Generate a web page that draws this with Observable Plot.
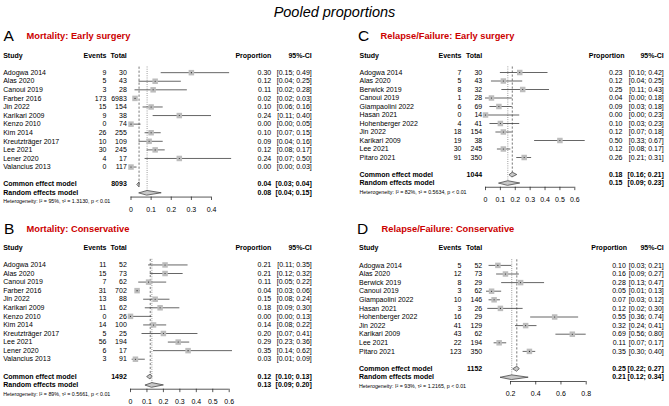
<!DOCTYPE html>
<html><head><meta charset="utf-8">
<script src="https://cdn.jsdelivr.net/npm/d3@7"></script>
<script src="https://cdn.jsdelivr.net/npm/@observablehq/plot@0.6"></script>
<style>
body{margin:0;background:#fff;}
#root{position:relative;width:669px;height:406px;overflow:hidden;font-family:"Liberation Sans",Arial,sans-serif;background:#fff;}
#title{position:absolute;left:0;top:4px;width:669px;text-align:center;font-style:italic;font-size:14.5px;line-height:17px;color:#000;}
.panel{position:absolute;}
</style></head><body>
<div id="root"><div id="title">Pooled proportions</div></div>
<script>
// ---------- Panel A: Mortality: Early surgery ----------
const studiesA = ["Adogwa 2014","Alas 2020","Canoui 2019","Farber 2016","Jin 2022","Karikari 2009","Kenzo 2010","Kim 2014","Kreutzträger 2017","Lee 2021","Lener 2020","Valancius 2013"];
const eventsA = [9,5,3,173,15,9,0,26,10,30,4,0];
const totalsA = [30,43,28,6983,154,38,74,255,109,245,17,117];
const propA  = [0.30,0.12,0.11,0.02,0.10,0.24,0.00,0.10,0.09,0.12,0.24,0.00];
const lowerA = [0.15,0.04,0.02,0.02,0.06,0.11,0.00,0.07,0.04,0.08,0.07,0.00];
const upperA = [0.49,0.25,0.28,0.03,0.16,0.40,0.05,0.15,0.16,0.17,0.50,0.03];
const modelEstA = [0.04,0.08], modelLowerA = [0.03,0.04], modelUpperA = [0.04,0.15];
const pooledTotalA = 8093;
const hetA = "Heterogeneity: I² = 95%, τ² = 1.3130, p < 0.01";
const ticksA = [0,0.1,0.2,0.3,0.4];

// ---------- Panel B: Mortality: Conservative ----------
const studiesB = ["Adogwa 2014","Alas 2020","Canoui 2019","Farber 2016","Jin 2022","Karikari 2009","Kenzo 2010","Kim 2014","Kreutzträger 2017","Lee 2021","Lener 2020","Valancius 2013"];
const eventsB = [11,15,7,31,13,11,0,14,5,56,6,3];
const totalsB = [52,73,62,702,88,62,26,100,25,194,17,91];
const propB  = [0.21,0.21,0.11,0.04,0.15,0.18,0.00,0.14,0.20,0.29,0.35,0.03];
const lowerB = [0.11,0.12,0.05,0.03,0.08,0.09,0.00,0.08,0.07,0.23,0.14,0.01];
const upperB = [0.35,0.32,0.22,0.06,0.24,0.30,0.13,0.22,0.41,0.36,0.62,0.09];
const modelEstB = [0.12,0.13], modelLowerB = [0.10,0.09], modelUpperB = [0.13,0.20];
const pooledTotalB = 1492;
const hetB = "Heterogeneity: I² = 89%, τ² = 0.5661, p < 0.01";
const ticksB = [0,0.1,0.2,0.3,0.4,0.5,0.6];

// ---------- Panel C: Relapse/Failure: Early surgery ----------
const studiesC = ["Adogwa 2014","Alas 2020","Berwick 2019","Canoui 2019","Giampaolini 2022","Hasan 2021","Hohenberger 2022","Jin 2022","Karikari 2009","Lee 2021","Pitaro 2021"];
const eventsC = [7,5,8,1,6,0,4,18,19,30,91];
const totalsC = [30,43,32,28,69,14,41,154,38,245,350];
const propC  = [0.23,0.12,0.25,0.04,0.09,0.00,0.10,0.12,0.50,0.12,0.26];
const lowerC = [0.10,0.04,0.11,0.00,0.03,0.00,0.03,0.07,0.33,0.08,0.21];
const upperC = [0.42,0.25,0.43,0.18,0.18,0.23,0.23,0.18,0.67,0.17,0.31];
const modelEstC = [0.18,0.15], modelLowerC = [0.16,0.09], modelUpperC = [0.21,0.23];
const pooledTotalC = 1044;
const hetC = "Heterogeneity: I² = 82%, τ² = 0.5634, p < 0.01";
const ticksC = [0,0.1,0.2,0.3,0.4,0.5,0.6];

// ---------- Panel D: Relapse/Failure: Conservative ----------
const studiesD = ["Adogwa 2014","Alas 2020","Berwick 2019","Canoui 2019","Giampaolini 2022","Hasan 2021","Hohenberger 2022","Jin 2022","Karikari 2009","Lee 2021","Pitaro 2021"];
const eventsD = [5,12,8,3,10,3,16,41,43,22,123];
const totalsD = [52,73,29,62,146,26,29,129,62,194,350];
const propD  = [0.10,0.16,0.28,0.05,0.07,0.12,0.55,0.32,0.69,0.11,0.35];
const lowerD = [0.03,0.09,0.13,0.01,0.03,0.02,0.36,0.24,0.56,0.07,0.30];
const upperD = [0.21,0.27,0.47,0.13,0.12,0.30,0.74,0.41,0.80,0.17,0.40];
const modelEstD = [0.25,0.21], modelLowerD = [0.22,0.12], modelUpperD = [0.27,0.34];
const pooledTotalD = 1152;
const hetD = "Heterogeneity: I² = 93%, τ² = 1.2165, p < 0.01";
const ticksD = [0.2,0.4,0.6,0.8];

const modelNames = ["Common effect model","Random effects model"];
const headerLabels = ["Study","Events","Total","Proportion","95%-CI"];
const FONT = '"Liberation Sans", Arial, Helvetica, sans-serif';
const f2 = d3.format(".2f");
const fTick = d => d === 0 ? "0" : String(d);

function panel(cfg){
  const n = cfg.studies.length;
  const rows = cfg.studies.map((st,i)=>({st, ev:cfg.events[i], tot:cfg.totals[i], p:cfg.prop[i], lo:cfg.lo[i], hi:cfg.hi[i], r:2+i}));
  const cRow = n+3, rRow = n+4;
  const models = modelNames.map((m,i)=>({m, est:cfg.mEst[i], lo:cfg.mLo[i], hi:cfg.mHi[i], r:cRow+i}));
  const h = 0.27;
  const diam = models.flatMap(d=>[
    {m:d.m,x:d.lo,y:d.r},{m:d.m,x:d.est,y:d.r-h},{m:d.m,x:d.hi,y:d.r},{m:d.m,x:d.est,y:d.r+h}]);
  const axisRow = rRow + 0.5;
  const L = cfg.left, T = cfg.top, c = cfg.cols;
  const colX = [c.study, c.events, c.total, c.propHead, c.ci].map(v=>v-L);
  const colAnchor = ["start","end","end","end","end"];
  const headers = headerLabels.map((t,i)=>({t, dx:colX[i], a:colAnchor[i]}));
  const fs = 7;
  const txt = (data, opts) => Plot.text(data, {fontSize:fs, frameAnchor:"left", ...opts});
  const marks = [
    Plot.text([cfg.letter], {frameAnchor:"top-left", dx:cfg.letterX-L, dy:cfg.titleY-T, textAnchor:"start", lineAnchor:"middle", fontSize:15.5, fill:"#000"}),
    Plot.text([cfg.title], {frameAnchor:"top-left", dx:cfg.titleX-L, dy:cfg.titleY-T, textAnchor:"start", lineAnchor:"middle", fontSize:9.3, fontWeight:"bold", fill:"#cc0000"}),
    ...headers.map(hd => Plot.text([0], {y:d=>d, text:()=>hd.t, frameAnchor:"left", dx:hd.dx, textAnchor:hd.a, fontSize:fs, fontWeight:"bold"})),
    Plot.ruleX([cfg.mEst[0]], {y1:1.35, y2:cRow+0.3, stroke:"#555", strokeWidth:0.8, strokeDasharray:"2.2,1.8"}),
    Plot.ruleX([cfg.mEst[1]], {y1:1.35, y2:rRow, stroke:"#666", strokeWidth:0.8, strokeDasharray:"0.8,1.4"}),
    txt(rows, {y:"r", text:"st", dx:colX[0], textAnchor:"start"}),
    txt(rows, {y:"r", text:d=>String(d.ev), dx:colX[1], textAnchor:"end"}),
    txt(rows, {y:"r", text:d=>String(d.tot), dx:colX[2], textAnchor:"end"}),
    txt(rows, {y:"r", text:d=>f2(d.p), dx:c.prop-L, textAnchor:"end"}),
    txt(rows, {y:"r", text:d=>`[${f2(d.lo)}; ${f2(d.hi)}]`, dx:colX[4], textAnchor:"end"}),
    Plot.ruleY(rows, {y:"r", x1:"lo", x2:"hi", stroke:"#333", strokeWidth:0.75}),
    Plot.dot(rows, {x:"p", y:"r", symbol:"square", r:3.1, fill:"#bdbdbd", stroke:"none"}),
    Plot.dot(rows, {x:"p", y:"r", r:0.55, fill:"#222", stroke:"none"}),
    txt(models, {y:"r", text:"m", dx:colX[0], textAnchor:"start", fontWeight:"bold"}),
    txt([models[0]], {y:"r", text:()=>String(cfg.mTotal), dx:colX[2], textAnchor:"end", fontWeight:"bold"}),
    txt(models, {y:"r", text:d=>f2(d.est), dx:c.prop-L, textAnchor:"end", fontWeight:"bold"}),
    txt(models, {y:"r", text:d=>`[${f2(d.lo)}; ${f2(d.hi)}]`, dx:colX[4], textAnchor:"end", fontWeight:"bold"}),
    Plot.line(diam, {x:"x", y:"y", z:"m", curve:"linear-closed", fill:"#c8c8c8", stroke:"#333", strokeWidth:0.7}),
    txt([rRow+1.05], {y:d=>d, text:()=>cfg.het, dx:colX[0], textAnchor:"start", fontSize:5.3}),
    Plot.ruleY([axisRow], {x1:cfg.ticks[0], x2:cfg.ticks[cfg.ticks.length-1], stroke:"#222", strokeWidth:0.75}),
    Plot.ruleX(cfg.ticks, {x:d=>d, y1:axisRow, y2:axisRow+0.4, stroke:"#222", strokeWidth:0.75}),
    Plot.text(cfg.ticks, {x:d=>d, y:axisRow+1.42, text:fTick, fontSize:7})
  ];
  const svg = Plot.plot({
    width: cfg.width, height: cfg.height, margin: 0,
    style: {fontFamily: FONT, background: "transparent", overflow: "visible"},
    x: {domain: cfg.xDomain, range: cfg.xRange.map(v=>v-L), axis: null},
    y: {type:"linear", domain:[0,1], range:[cfg.y0-T, cfg.y0-T+cfg.s], axis: null},
    marks
  });
  const div = document.createElement("div");
  div.className = "panel";
  div.style.left = L+"px"; div.style.top = T+"px";
  div.style.width = cfg.width+"px"; div.style.height = cfg.height+"px";
  div.appendChild(svg);
  document.getElementById("root").appendChild(div);
}

const colsLeft = {study:2.7, events:106, total:126.3, propHead:270.7, prop:270.7, ci:311.3};
panel({left:0, top:20, width:335, height:195, letter:"A", title:"Mortality: Early surgery", letterX:3, titleX:26, titleY:35.5,
  studies:studiesA, events:eventsA, totals:totalsA, prop:propA, lo:lowerA, hi:upperA,
  mEst:modelEstA, mLo:modelLowerA, mHi:modelUpperA, mTotal:pooledTotalA, het:hetA, ticks:ticksA,
  xDomain:[0,0.4], xRange:[130.5,211], y0:55, s:8.58, cols:colsLeft});
panel({left:0, top:215, width:335, height:191, letter:"B", title:"Mortality: Conservative", letterX:3.5, titleX:26, titleY:228.5,
  studies:studiesB, events:eventsB, totals:totalsB, prop:propB, lo:lowerB, hi:upperB,
  mEst:modelEstB, mLo:modelLowerB, mHi:modelUpperB, mTotal:pooledTotalB, het:hetB, ticks:ticksB,
  xDomain:[0,0.6], xRange:[130,228.7], y0:247.3, s:8.57, cols:colsLeft});
panel({left:335, top:20, width:334, height:195, letter:"C", title:"Relapse/Failure: Early surgery", letterX:357.5, titleX:380, titleY:35.5,
  studies:studiesC, events:eventsC, totals:totalsC, prop:propC, lo:lowerC, hi:upperC,
  mEst:modelEstC, mLo:modelLowerC, mHi:modelUpperC, mTotal:pooledTotalC, het:hetC, ticks:ticksC,
  xDomain:[0,0.6], xRange:[485,574.3], y0:55, s:8.5,
  cols:{study:359, events:461, total:481.7, propHead:624, prop:622, ci:663.3}});
panel({left:335, top:215, width:334, height:191, letter:"D", title:"Relapse/Failure: Conservative", letterX:356.5, titleX:381, titleY:228.5,
  studies:studiesD, events:eventsD, totals:totalsD, prop:propD, lo:lowerD, hi:upperD,
  mEst:modelEstD, mLo:modelLowerD, mHi:modelUpperD, mTotal:pooledTotalD, het:hetD, ticks:ticksD,
  xDomain:[0.2,0.8], xRange:[510,585.7], y0:247.7, s:8.6,
  cols:{study:358.5, events:461, total:481.7, propHead:626.5, prop:625.3, ci:663.3}});
</script>
</body></html>
